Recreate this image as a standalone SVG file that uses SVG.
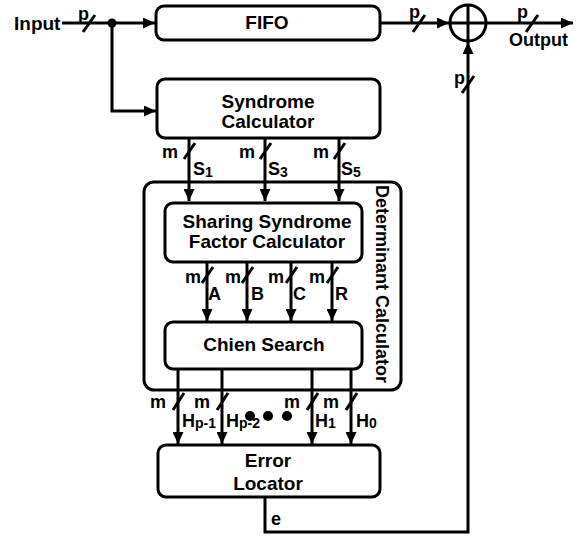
<svg xmlns="http://www.w3.org/2000/svg" width="583" height="536" viewBox="0 0 583 536">
  <style>
    .box { fill: #fff; stroke: #000; stroke-width: 3; }
    .wire { fill: none; stroke: #000; stroke-width: 3; }
    .tick { stroke: #000; stroke-width: 3; stroke-linecap: butt; }
    .t { font-family: "Liberation Sans", Arial, sans-serif; font-weight: bold; font-size: 18px; fill: #000; }
    .big { font-size: 19px; }
    .c { text-anchor: middle; }
    .e { text-anchor: end; }
    .sub { font-size: 14px; }
  </style>
  <defs>
    <marker id="arrow" markerUnits="userSpaceOnUse" markerWidth="13" markerHeight="11" refX="12" refY="5.5" orient="auto">
      <path d="M0,0 L12,5.5 L0,11 Z" fill="#000"/>
    </marker>
  </defs>

  <!-- blocks -->
  <g id="fifo">
    <rect class="box" x="156" y="6" width="224" height="34" rx="8"/>
    <text class="t big c" x="267" y="29">FIFO</text>
  </g>
  <g id="syndrome-calculator">
    <rect class="box" x="157" y="79" width="223" height="59" rx="8"/>
    <text class="t big c" x="268" y="108">Syndrome</text>
    <text class="t big c" x="268" y="128">Calculator</text>
  </g>
  <g id="determinant-calculator">
    <rect class="box" x="144" y="182" width="257" height="208" rx="10"/>
    <text class="t c" x="0" y="0" font-size="17.5" transform="translate(376,284) rotate(90)">Determinant Calculator</text>
  </g>
  <g id="sharing-syndrome">
    <rect class="box" x="165" y="203" width="197" height="59" rx="8"/>
    <text class="t big c" x="267" y="228">Sharing Syndrome</text>
    <text class="t big c" x="267" y="248">Factor Calculator</text>
  </g>
  <g id="chien-search">
    <rect class="box" x="165" y="322" width="197" height="47" rx="8"/>
    <text class="t big c" x="264" y="351">Chien Search</text>
  </g>
  <g id="error-locator">
    <rect class="box" x="158" y="445" width="222" height="52" rx="8"/>
    <text class="t big c" x="268" y="467">Error</text>
    <text class="t big c" x="268" y="490">Locator</text>
  </g>
  <g id="xor">
    <circle cx="468" cy="23" r="18" fill="#fff" stroke="#000" stroke-width="3"/>
    <line class="tick" x1="450" y1="23" x2="486" y2="23"/>
    <line class="tick" x1="468" y1="5" x2="468" y2="41"/>
  </g>

  <!-- connectors -->
  <g id="connectors">
    <!-- input path -->
    <line class="wire" x1="62" y1="23" x2="155" y2="23" marker-end="url(#arrow)"/>
    <polyline class="wire" points="112,23 112,111 156,111" marker-end="url(#arrow)"/>
    <circle cx="112" cy="23" r="4.5" fill="#000"/>
    <line class="tick" x1="83" y1="32" x2="95" y2="15"/>

    <!-- FIFO to XOR -->
    <line class="wire" x1="380" y1="23" x2="449" y2="23" marker-end="url(#arrow)"/>
    <line class="tick" x1="413" y1="32" x2="425" y2="15"/>

    <!-- output -->
    <line class="wire" x1="486" y1="23" x2="573" y2="23" marker-end="url(#arrow)"/>
    <line class="tick" x1="526" y1="32" x2="538" y2="15"/>

    <!-- syndromes -->
    <line class="wire" x1="189" y1="138" x2="189" y2="201" marker-end="url(#arrow)"/>
    <line class="wire" x1="265" y1="138" x2="265" y2="201" marker-end="url(#arrow)"/>
    <line class="wire" x1="339" y1="138" x2="339" y2="201" marker-end="url(#arrow)"/>
    <line class="tick" x1="184" y1="159" x2="195" y2="143"/>
    <line class="tick" x1="260" y1="159" x2="271" y2="143"/>
    <line class="tick" x1="334" y1="159" x2="345" y2="143"/>

    <!-- shared factors -->
    <line class="wire" x1="207" y1="262" x2="207" y2="321" marker-end="url(#arrow)"/>
    <line class="wire" x1="247" y1="262" x2="247" y2="321" marker-end="url(#arrow)"/>
    <line class="wire" x1="291" y1="262" x2="291" y2="321" marker-end="url(#arrow)"/>
    <line class="wire" x1="332" y1="262" x2="332" y2="321" marker-end="url(#arrow)"/>
    <line class="tick" x1="202" y1="283" x2="213" y2="267"/>
    <line class="tick" x1="242" y1="283" x2="253" y2="267"/>
    <line class="tick" x1="286" y1="283" x2="297" y2="267"/>
    <line class="tick" x1="327" y1="283" x2="338" y2="267"/>

    <!-- Chien search outputs -->
    <line class="wire" x1="178" y1="369" x2="178" y2="444" marker-end="url(#arrow)"/>
    <line class="wire" x1="222" y1="369" x2="222" y2="444" marker-end="url(#arrow)"/>
    <line class="wire" x1="312" y1="369" x2="312" y2="444" marker-end="url(#arrow)"/>
    <line class="wire" x1="351" y1="369" x2="351" y2="444" marker-end="url(#arrow)"/>
    <line class="tick" x1="173" y1="410" x2="184" y2="393"/>
    <line class="tick" x1="217" y1="410" x2="228" y2="393"/>
    <line class="tick" x1="307" y1="410" x2="318" y2="393"/>
    <line class="tick" x1="346" y1="410" x2="357" y2="393"/>
    <circle cx="250" cy="416" r="5" fill="#000"/>
    <circle cx="268" cy="416" r="5" fill="#000"/>
    <circle cx="287" cy="416" r="5" fill="#000"/>

    <!-- error feedback -->
    <polyline class="wire" points="265,497 265,532 468,532 468,42" marker-end="url(#arrow)"/>
    <line class="tick" x1="462" y1="93" x2="474" y2="76"/>
  </g>

  <!-- labels -->
  <g id="labels">
    <text class="t big" x="14" y="30">Input</text>
    <text class="t" x="78" y="20">p</text>
    <text class="t" x="409" y="18">p</text>
    <text class="t" x="517" y="18">p</text>
    <text class="t" x="509" y="46">Output</text>
    <text class="t" x="454" y="84">p</text>

    <text class="t e" x="178" y="158">m</text>
    <text class="t e" x="255" y="158">m</text>
    <text class="t e" x="329" y="158">m</text>
    <text class="t" x="193" y="175">S<tspan class="sub" dy="2">1</tspan></text>
    <text class="t" x="268" y="175">S<tspan class="sub" dy="2">3</tspan></text>
    <text class="t" x="341" y="175">S<tspan class="sub" dy="2">5</tspan></text>

    <text class="t e" x="201" y="283">m</text>
    <text class="t e" x="241" y="283">m</text>
    <text class="t e" x="284" y="283">m</text>
    <text class="t e" x="325" y="283">m</text>
    <text class="t" x="208" y="300">A</text>
    <text class="t" x="251" y="300">B</text>
    <text class="t" x="293" y="300">C</text>
    <text class="t" x="335" y="300">R</text>

    <text class="t e" x="166" y="408">m</text>
    <text class="t e" x="210" y="408">m</text>
    <text class="t e" x="300" y="408">m</text>
    <text class="t e" x="339" y="408">m</text>
    <text class="t" x="182" y="427">H<tspan class="sub" dy="1">p-1</tspan></text>
    <text class="t" x="226" y="427">H<tspan class="sub" dy="1">p-2</tspan></text>
    <text class="t" x="315" y="427">H<tspan class="sub" dy="1">1</tspan></text>
    <text class="t" x="356" y="427">H<tspan class="sub" dy="1">0</tspan></text>

    <text class="t" x="271" y="525">e</text>
  </g>
</svg>
